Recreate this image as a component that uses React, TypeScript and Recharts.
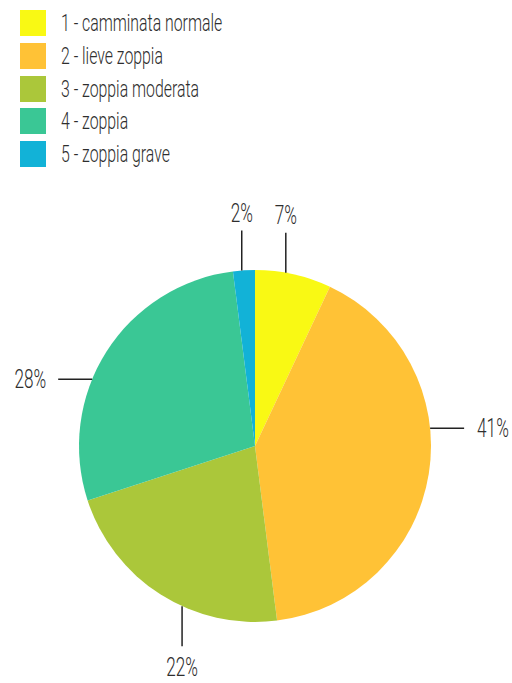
import { PieChart, Pie, Cell } from "recharts";

const categories = [
  "1 - camminata normale",
  "2 - lieve zoppia",
  "3 - zoppia moderata",
  "4 - zoppia",
  "5 - zoppia grave",
];
const percentages = [7, 41, 22, 28, 2];
const colors = ["#F9F914", "#FFC236", "#ABC73A", "#3AC795", "#12B2D7"];

const FONT = "Roboto, 'Noto Sans', sans-serif";
const TEXT_COLOR = "#2e2e2e";
const SQUEEZE = 0.66; // condensed look, no condensed font available
const RADIAN = Math.PI / 180;

const data = categories.map((name, i) => ({ name, value: percentages[i] }));

// straight leader line: horizontal on the sides, vertical at top / bottom,
// anchored a little before the middle of each slice
const renderLabel = (props: any) => {
  const { cx, cy, startAngle, endAngle, outerRadius, value } = props;
  const angle = startAngle + 0.4 * (endAngle - startAngle);
  const cos = Math.cos(-angle * RADIAN);
  const sin = Math.sin(-angle * RADIAN);
  const sx = cx + outerRadius * cos;
  const sy = cy + outerRadius * sin;
  const horizontal = Math.abs(cos) > Math.abs(sin);
  const len = horizontal ? 34 : 40;
  let ex = sx;
  let ey = sy;
  let tx = sx;
  let ty = sy;
  let anchor: "start" | "middle" | "end" = "middle";
  let baseline: "central" | "auto" | "hanging" = "central";
  if (horizontal) {
    ex = sx + (cos > 0 ? len : -len);
    tx = ex + (cos > 0 ? 13 : -12);
    anchor = cos > 0 ? "start" : "end";
  } else {
    ey = sy + (sin > 0 ? len : -len);
    ty = ey + (sin > 0 ? 11 : -9);
    baseline = sin > 0 ? "hanging" : "auto";
  }
  return (
    <g>
      <line x1={sx} y1={sy} x2={ex} y2={ey} stroke="#222" strokeWidth={1.5} />
      <text
        transform={`translate(${tx},${ty}) scale(${SQUEEZE},1)`}
        x={0}
        y={0}
        textAnchor={anchor}
        dominantBaseline={baseline}
        fill={TEXT_COLOR}
        fontSize={26}
        fontWeight={300}
        fontFamily={FONT}
      >
        {`${value}%`}
      </text>
    </g>
  );
};

const LegendBox = () => (
  <div style={{ position: "absolute", left: 20, top: 10, fontFamily: FONT, color: TEXT_COLOR }}>
    {categories.map((name, i) => (
      <div key={name} style={{ display: "flex", alignItems: "center", height: 32.8 }}>
        <span
          style={{
            display: "inline-block",
            flex: "none",
            width: 26,
            height: 26,
            background: colors[i],
            marginRight: 15,
            alignSelf: "flex-start",
          }}
        />
        <span
          style={{
            fontSize: 24,
            fontWeight: 300,
            lineHeight: "26px",
            whiteSpace: "nowrap",
            transform: `scaleX(${SQUEEZE})`,
            transformOrigin: "left center",
            alignSelf: "flex-start",
          }}
        >
          {name}
        </span>
      </div>
    ))}
  </div>
);

export default function App() {
  return (
    <div style={{ position: "absolute", left: 0, top: 0, width: 512, height: 683, background: "#fff" }}>
      <PieChart width={512} height={683} margin={{ top: 0, right: 0, bottom: 0, left: 0 }}>
        <Pie
          data={data}
          dataKey="value"
          nameKey="name"
          cx={255}
          cy={446}
          outerRadius={176}
          startAngle={90}
          endAngle={-270}
          stroke="none"
          label={renderLabel}
          labelLine={false}
          isAnimationActive={false}
        >
          {data.map((d, i) => (
            <Cell key={d.name} fill={colors[i]} />
          ))}
        </Pie>
      </PieChart>
      <LegendBox />
    </div>
  );
}
